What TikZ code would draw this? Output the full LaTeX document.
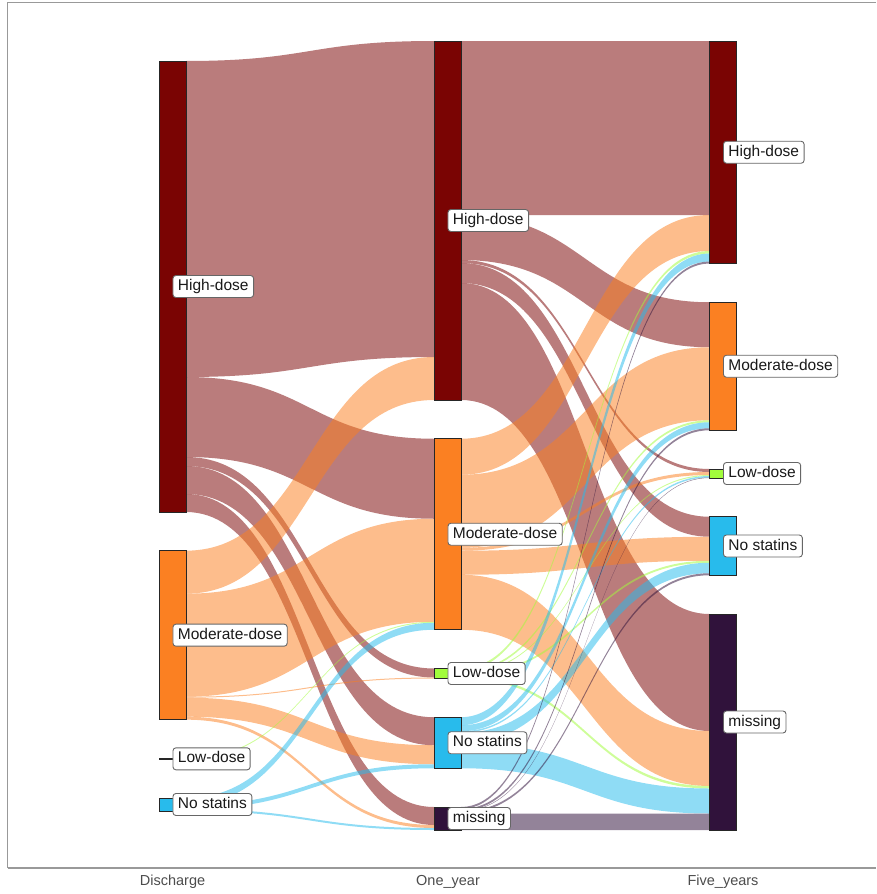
\documentclass[tikz,border=0pt]{standalone}
\usepackage{fontspec}
\setmainfont{Liberation Sans}
\usetikzlibrary{calc}
\pgfdeclarelayer{flows}
\pgfsetlayers{flows,main}

% stratum colours (turbo palette)
\definecolor{hiC}{HTML}{7A0403}
\definecolor{moC}{HTML}{FB8022}
\definecolor{loC}{HTML}{A2FC3C}
\definecolor{noC}{HTML}{28BBEC}
\definecolor{miC}{HTML}{30123B}

\tikzset{
  bar/.style={draw=black!85, line width=0.9pt, minimum width=27pt,
    inner sep=0pt, outer sep=0pt, anchor=north west},
  lab/.style={draw=black!60, line width=0.9pt, fill=white, rounded corners=3pt,
    anchor=west, font=\fontsize{15.5}{18}\selectfont, text=black!90,
    inner xsep=5pt, inner ysep=3.5pt, text height=11.5pt, text depth=3.5pt},
  axislab/.style={font=\fontsize{14.5}{17}\selectfont, text=black!70},
  frameline/.style={draw=black!40, line width=1.3pt},
  band/.style={fill opacity=0.52},
}

% \flowband{colour}{source}{offset below source top}{target}{offset below target top}{thickness}
\newcommand\flowband[6]{%
  \fill[band, fill=#1]
    let \p1=([yshift={-(#3)*1pt}]#2.north east),
        \p2=([yshift={-(#5)*1pt}]#4.north west),
        \p3=([yshift={-(#3+#6)*1pt}]#2.north east),
        \p4=([yshift={-(#5+#6)*1pt}]#4.north west) in
    (\p1) .. controls ({(\x1+\x2)/2},\y1) and ({(\x1+\x2)/2},\y2) .. (\p2)
    -- (\p4) .. controls ({(\x1+\x2)/2},\y4) and ({(\x1+\x2)/2},\y3) .. (\p3) -- cycle;}

\begin{document}
\begin{tikzpicture}[x=1pt, y=-1pt]
\useasboundingbox (0,0) rectangle (876,894);

% panel frame and axis line
\draw[frameline] (7.5,868) -- (7.5,2.5) -- (876,2.5);
\draw[frameline] (7.5,868) -- (876,868);

% strata: Discharge
\node[bar, fill=hiC, minimum height=451pt] (d-high) at (159,61) {};
\node[bar, fill=moC, minimum height=169pt] (d-mod)  at (159,550.67) {};
\node[bar, fill=loC, minimum height=1pt]   (d-low)  at (159,758.33) {};
\node[bar, fill=noC, minimum height=13pt]  (d-nos)  at (159,798) {};

% strata: One_year
\node[bar, fill=hiC, minimum height=359pt] (o-high) at (434,41) {};
\node[bar, fill=moC, minimum height=191pt] (o-mod)  at (434,438.75) {};
\node[bar, fill=loC, minimum height=10pt]  (o-low)  at (434,668.5) {};
\node[bar, fill=noC, minimum height=51pt]  (o-nos)  at (434,717.25) {};
\node[bar, fill=miC, minimum height=23pt]  (o-mis)  at (434,807) {};

% strata: Five_years
\node[bar, fill=hiC, minimum height=222.5pt] (f-high) at (709.5,41) {};
\node[bar, fill=moC, minimum height=128pt]   (f-mod)  at (709.5,302.25) {};
\node[bar, fill=loC, minimum height=9pt]     (f-low)  at (709.5,469) {};
\node[bar, fill=noC, minimum height=58.5pt]  (f-nos)  at (709.5,516.75) {};
\node[bar, fill=miC, minimum height=216pt]   (f-mis)  at (709.5,614) {};

\begin{pgfonlayer}{flows}
% Discharge -> One_year
\flowband{hiC}{d-high}{0}{o-high}{0}{316}
\flowband{hiC}{d-high}{316}{o-mod}{0}{80}
\flowband{hiC}{d-high}{396}{o-low}{0}{9}
\flowband{hiC}{d-high}{405}{o-nos}{0}{28}
\flowband{hiC}{d-high}{433}{o-mis}{0}{18}
\flowband{moC}{d-mod}{0}{o-high}{316}{43}
\flowband{moC}{d-mod}{43}{o-mod}{80}{103}
\flowband{moC}{d-mod}{146}{o-low}{9}{1}
\flowband{moC}{d-mod}{147}{o-nos}{28}{19}
\flowband{moC}{d-mod}{166}{o-mis}{18}{3}
\flowband{loC}{d-low}{0}{o-mod}{183}{1}
\flowband{noC}{d-nos}{0}{o-mod}{184}{7}
\flowband{noC}{d-nos}{7}{o-nos}{47}{4}
\flowband{noC}{d-nos}{11}{o-mis}{21}{2}
% One_year -> Five_years
\flowband{hiC}{o-high}{0}{f-high}{0}{174}
\flowband{hiC}{o-high}{174}{f-mod}{0}{45}
\flowband{hiC}{o-high}{219}{f-low}{0}{3}
\flowband{hiC}{o-high}{222}{f-nos}{0}{20}
\flowband{hiC}{o-high}{242}{f-mis}{0}{117}
\flowband{moC}{o-mod}{0}{f-high}{174}{36}
\flowband{moC}{o-mod}{36}{f-mod}{45}{73}
\flowband{moC}{o-mod}{109}{f-low}{3}{3}
\flowband{moC}{o-mod}{112}{f-nos}{20}{24}
\flowband{moC}{o-mod}{136}{f-mis}{117}{55}
\flowband{loC}{o-low}{0}{f-high}{210}{2.5}
\flowband{loC}{o-low}{2.5}{f-mod}{118}{2}
\flowband{loC}{o-low}{4.5}{f-low}{6}{1}
\flowband{loC}{o-low}{5.5}{f-nos}{44}{2}
\flowband{loC}{o-low}{7.5}{f-mis}{172}{2.5}
\flowband{noC}{o-nos}{0}{f-high}{212.5}{8}
\flowband{noC}{o-nos}{8}{f-mod}{120}{6}
\flowband{noC}{o-nos}{14}{f-low}{7}{1.5}
\flowband{noC}{o-nos}{15.5}{f-nos}{46}{10.5}
\flowband{noC}{o-nos}{26}{f-mis}{174.5}{25}
\flowband{miC}{o-mis}{0}{f-high}{220.5}{2}
\flowband{miC}{o-mis}{2}{f-mod}{126}{2}
\flowband{miC}{o-mis}{4}{f-low}{8.5}{0.5}
\flowband{miC}{o-mis}{4.5}{f-nos}{56.5}{2}
\flowband{miC}{o-mis}{6.5}{f-mis}{199.5}{16.5}
\end{pgfonlayer}

% stratum labels
\node[lab] (l-d-high) at (d-high.center) {High-dose};
\node[lab] (l-d-mod)  at (d-mod.center)  {Moderate-dose};
\node[lab] (l-d-low)  at (d-low.center)  {Low-dose};
\node[lab] (l-d-nos)  at (d-nos.center)  {No statins};
\node[lab] (l-o-high) at (o-high.center) {High-dose};
\node[lab] (l-o-mod)  at (o-mod.center)  {Moderate-dose};
\node[lab] (l-o-low)  at (o-low.center)  {Low-dose};
\node[lab] (l-o-nos)  at (o-nos.center)  {No statins};
\node[lab] (l-o-mis)  at (o-mis.center)  {missing};
\node[lab] (l-f-high) at (f-high.center) {High-dose};
\node[lab] (l-f-mod)  at (f-mod.center)  {Moderate-dose};
\node[lab] (l-f-low)  at (f-low.center)  {Low-dose};
\node[lab] (l-f-nos)  at (f-nos.center)  {No statins};
\node[lab] (l-f-mis)  at (f-mis.center)  {missing};

% axis labels
\node[axislab] (ax-d) at (172.5,882) {Discharge};
\node[axislab] (ax-o) at (448,882) {One\_year};
\node[axislab] (ax-f) at (723,882) {Five\_years};
\end{tikzpicture}
\end{document}
